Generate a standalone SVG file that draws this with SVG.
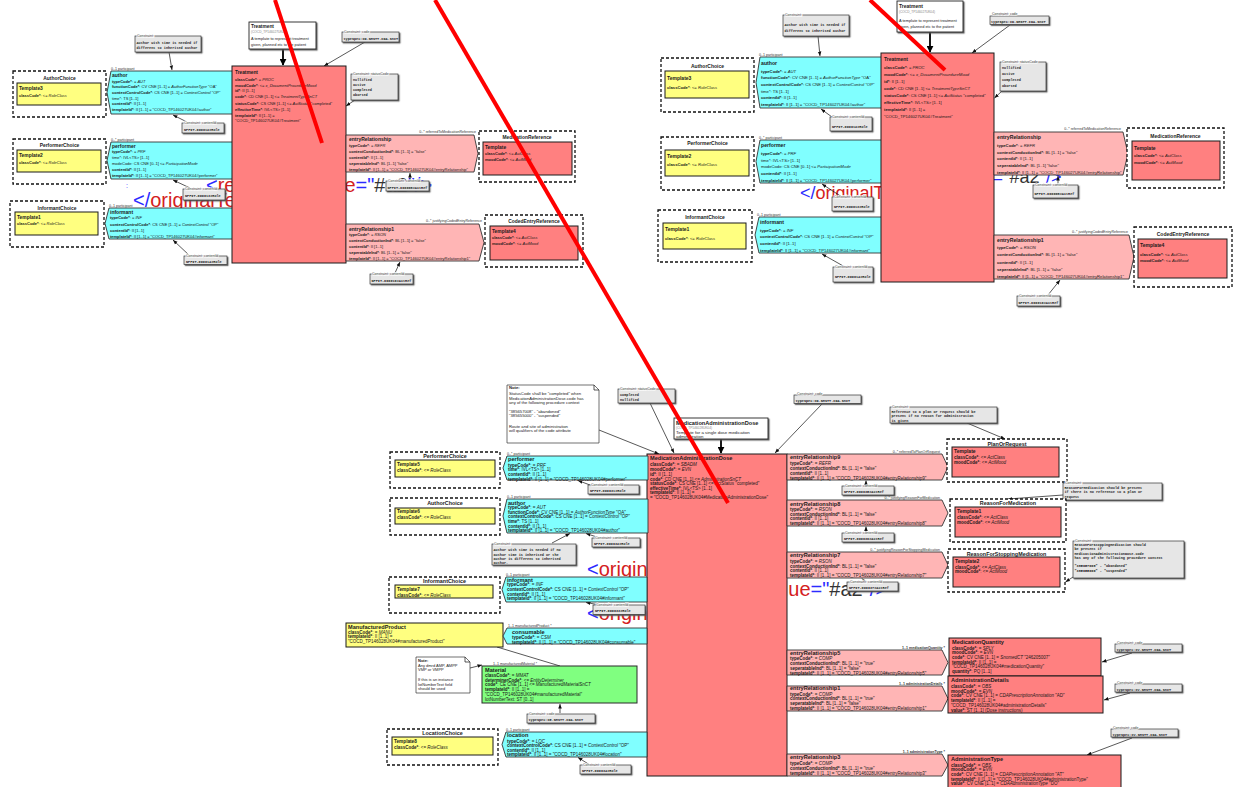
<svg xmlns="http://www.w3.org/2000/svg" width="1235" height="787" viewBox="0 0 1235 787">
<defs>
<style>
text{font-family:"Liberation Sans",Arial,sans-serif;fill:#1a1a1a}
.h{font-weight:bold}
.i{font-style:italic}
.g{fill:#888}
.cl{font-size:3.5px;fill:#333;stroke:#fff;stroke-width:1.2px;paint-order:stroke}
.mo{font-family:"Liberation Mono",monospace;font-weight:bold;font-size:3.5px;fill:#222}
.red{fill:#ff8080;stroke:#1a1a1a;stroke-width:1}
.pink{fill:#ffb5b5;stroke:#333;stroke-width:0.9}
.cyan{fill:#80ffff;stroke:#333;stroke-width:0.9}
.yel{fill:#ffff80;stroke:#1a1a1a;stroke-width:1}
.grn{fill:#80ff80;stroke:#2a2a2a;stroke-width:1}
.ch{fill:#fff;stroke:#111;stroke-width:1.3;stroke-dasharray:3 2}
.cb{fill:#e6e6e6;stroke:#333;stroke-width:0.7;filter:url(#sh)}
.tb{fill:#fff;stroke:#222;stroke-width:0.9;filter:url(#sh)}
.nt{fill:#fff;stroke:#333;stroke-width:0.7}
.ln{stroke:#111;stroke-width:0.7;fill:none;marker-end:url(#ah)}
.lp{stroke:#111;stroke-width:0.7;fill:none}
.tk{stroke:#000;stroke-width:1.8;fill:none;marker-end:url(#ahb)}
.rl{stroke:#ff0000;stroke-width:4;fill:none}
.x{font-size:20px}
.xb{fill:#2b2bff}
.xr{fill:#d42020}
.xd{fill:#333}
.lb{font-size:3.6px;fill:#333}
</style>
<marker id="ah" viewBox="0 0 10 10" refX="10" refY="5" markerWidth="4.5" markerHeight="4.5" orient="auto" markerUnits="userSpaceOnUse"><path d="M0,1L10,5L0,9Z" fill="#111"/></marker>
<marker id="ahb" viewBox="0 0 10 10" refX="9" refY="5" markerWidth="7" markerHeight="7" orient="auto" markerUnits="userSpaceOnUse"><path d="M0,0L10,5L0,10Z" fill="#000"/></marker>
<filter id="sh" x="-10%" y="-10%" width="130%" height="150%"><feDropShadow dx="1.2" dy="1.2" stdDeviation="0.2" flood-color="#555" flood-opacity="0.9"/></filter>
</defs>
<rect width="1235" height="787" fill="#fff"/>

<!-- background xml fragments -->
<g id="xml-fragments" class="x">
<text x="206" y="192"><tspan class="xb">&lt;</tspan><tspan class="xr">reference value</tspan><tspan class="xb">="</tspan><tspan class="xd">#a2</tspan><tspan class="xb">"/&gt;</tspan></text>
<text x="133" y="207"><tspan class="xb">&lt;/</tspan><tspan class="xr">originalText</tspan><tspan class="xb">&gt;</tspan></text>
<text x="126" y="188" font-size="7" class="xb">:</text>
<text x="800" y="199" font-size="18"><tspan class="xb">&lt;/</tspan><tspan class="xr">originalText</tspan><tspan class="xb">&gt;</tspan></text>
<text x="858" y="182.5" font-size="18"><tspan class="xb">&lt;</tspan><tspan class="xr">reference value</tspan><tspan class="xb">="</tspan><tspan class="xd">#a2</tspan><tspan class="xb">"/&gt;</tspan></text>
<text x="587" y="576"><tspan class="xb">&lt;</tspan><tspan class="xr">originalText</tspan></text>
<text x="587" y="620"><tspan class="xb">&lt;</tspan><tspan class="xr">originalText</tspan></text>
<text x="661" y="596"><tspan class="xb">&lt;</tspan><tspan class="xr">reference value</tspan><tspan class="xb">="</tspan><tspan class="xd">#a2</tspan><tspan class="xb">"/&gt;</tspan></text>
</g>

<!-- ================= TOP LEFT ================= -->
<g id="connectors-tl">
<path class="ln" d="M169,52L172,70"/>
<path class="ln" d="M187,122L173,115"/>
<path class="ln" d="M190,188L173,180"/>
<path class="ln" d="M190,256L173,240"/>
<path class="tk" d="M283,49V65"/>
<path class="ln" d="M365,42L324,66"/>
<path class="ln" d="M355,100L346,106"/>
<path class="ln" d="M410,180V173"/>
<path class="ln" d="M395,273L400,262"/>
</g>
<g font-size="4">
<g id="tl-authorchoice"><rect class="ch" x="13" y="71" width="93" height="46"/><text x="59.5" y="80" text-anchor="middle" class="h" font-size="4.9">AuthorChoice</text>
<rect class="yel" x="17" y="83" width="84" height="22"/><text x="19" y="90" class="h" font-size="4.9">Template3</text><text x="19" y="96.5"><tspan class="h">classCode*</tspan>: &lt;= <tspan class="i">RoleClass</tspan></text></g>
<g id="tl-author"><text x="111" y="69.5" class="lb">0..1 participant</text><path class="cyan" d="M111,71H233V114H111L107,92.5Z"/>
<text x="112" y="77" class="h" font-size="5">author</text>
<text x="112" y="82.5"><tspan class="h">typeCode*</tspan>: = <tspan class="i">AUT</tspan></text>
<text x="112" y="88.2"><tspan class="h">functionCode*</tspan>: CV CNE [1..1] = <tspan class="i">AuthorFunctionType</tspan> "OA"</text>
<text x="112" y="93.9"><tspan class="h">contextControlCode*</tspan>: CS CNE [1..1] = <tspan class="i">ContextControl</tspan> "OP"</text>
<text x="112" y="99.6">time*: TS [1..1]</text>
<text x="112" y="105.3"><tspan class="h">contentId*</tspan>: II [1..1]</text>
<text x="112" y="111.2"><tspan class="h">templateId*</tspan>: II [1..1] = "COCD_TP146027UK04#author"</text></g>
<g id="tl-constraint-author"><rect class="cb" x="135" y="36" width="66" height="16"/><text class="cl" x="137" y="37">Constraint:</text><text class="mo" x="136.5" y="43.5" font-size="3.6">Author with time is needed if</text><text class="mo" x="136.5" y="49" font-size="3.6">different to inherited author</text></g>
<g id="tl-c-author-id"><rect class="cb" x="182" y="123" width="42" height="10"/><text class="cl" x="184" y="124">Constraint: contentId</text><text class="mo" x="184" y="130.5">NPFIT-000012#Role</text></g>

<g id="tl-performerchoice"><rect class="ch" x="13" y="139" width="93" height="45"/><text x="59.5" y="147" text-anchor="middle" class="h" font-size="4.9">PerformerChoice</text>
<rect class="yel" x="17" y="150" width="84" height="22"/><text x="19" y="157" class="h" font-size="4.9">Template2</text><text x="19" y="163.5"><tspan class="h">classCode*</tspan>: &lt;= <tspan class="i">RoleClass</tspan></text></g>
<g id="tl-performer"><text x="111" y="140.5" class="lb">0..* participant</text><path class="cyan" d="M111,142H233V179H111L107,160.5Z"/>
<text x="112" y="147.5" class="h" font-size="5">performer</text>
<text x="112" y="153.3"><tspan class="h">typeCode*</tspan>: = <tspan class="i">PRF</tspan></text>
<text x="112" y="159.3">time*: IVL&lt;TS&gt; [1..1]</text>
<text x="112" y="165.3">modeCode: CS CNE [0..1] &lt;= <tspan class="i">ParticipationMode</tspan></text>
<text x="112" y="171.3"><tspan class="h">contentId*</tspan>: II [1..1]</text>
<text x="112" y="177.2"><tspan class="h">templateId*</tspan>: II [1..1] = "COCD_TP146027UK04#performer"</text></g>
<g id="tl-c-performer-id"><rect class="cb" x="183" y="189" width="42" height="11"/><text class="cl" x="185" y="190">Constraint: contentId</text><text class="mo" x="185" y="197">NPFIT-000013#Role</text></g>

<g id="tl-informantchoice"><rect class="ch" x="10" y="201" width="94" height="46"/><text x="57" y="209.5" text-anchor="middle" class="h" font-size="4.9">InformantChoice</text>
<rect class="yel" x="15" y="212" width="83" height="23"/><text x="17" y="218.8" class="h" font-size="4.9">Template1</text><text x="17" y="225.3"><tspan class="h">classCode*</tspan>: &lt;= <tspan class="i">RoleClass</tspan></text></g>
<g id="tl-informant"><text x="109" y="206.5" class="lb">0..1 participant</text><path class="cyan" d="M109,208H233V239H109L105,223.5Z"/>
<text x="110" y="213.5" class="h" font-size="5">informant</text>
<text x="110" y="219.3"><tspan class="h">typeCode*</tspan>: = <tspan class="i">INF</tspan></text>
<text x="110" y="225.6"><tspan class="h">contextControlCode*</tspan>: CS CNE [1..1] = <tspan class="i">ContextControl</tspan> "OP"</text>
<text x="110" y="231.6"><tspan class="h">contentId*</tspan>: II [1..1]</text>
<text x="110" y="237.6"><tspan class="h">templateId*</tspan>: II [1..1] = "COCD_TP146027UK04#informant"</text></g>
<g id="tl-c-informant-id"><rect class="cb" x="184" y="256" width="43" height="8.5"/><text class="cl" x="186" y="257">Constraint: contentId</text><text class="mo" x="186" y="262.8">NPFIT-000014#Role</text></g>

<g id="tl-treatment-title"><rect class="tb" x="249" y="22" width="67" height="27"/><text x="251" y="28.3" class="h" font-size="4.8">Treatment</text><text x="251" y="33.3" class="g" font-size="3.2">(COCD_TP146027UK04)</text><text x="251" y="40" font-size="3.9">A template to represent treatment</text><text x="251" y="46" font-size="3.9">given, planned etc to the patient</text></g>
<g id="tl-treatment"><rect class="red" x="232" y="66" width="114" height="197"/>
<text x="235" y="74" class="h" font-size="4.8">Treatment</text>
<text x="235" y="80.5"><tspan class="h">classCode*</tspan>: = <tspan class="i">PROC</tspan></text>
<text x="235" y="86.5"><tspan class="h">moodCode*</tspan>: &lt;= <tspan class="i">x_DocumentProcedureMood</tspan></text>
<text x="235" y="92.3"><tspan class="h">id*</tspan>: II [1..1]</text>
<text x="235" y="98.3"><tspan class="h">code*</tspan>: CD CNE [1..1] &lt;= <tspan class="i">TreatmentTypeSnCT</tspan></text>
<text x="235" y="104.5"><tspan class="h">statusCode*</tspan>: CS CNE [1..1] &lt;= <tspan class="i">ActStatus</tspan> "completed"</text>
<text x="235" y="110.5"><tspan class="h">effectiveTime*</tspan>: IVL&lt;TS&gt; [1..1]</text>
<text x="235" y="116.5"><tspan class="h">templateId*</tspan>: II [1..1] =</text>
<text x="235" y="122.3">"COCD_TP146027UK04#Treatment"</text></g>
<g id="tl-c-code"><rect class="cb" x="342" y="32" width="57" height="10"/><text class="cl" x="344" y="33">Constraint: code</text><text class="mo" x="343.5" y="39.5" font-size="3.3">typeSpec:CD.NHSTT.CDA.SnCT</text></g>
<g id="tl-c-status"><rect class="cb" x="351" y="74" width="47" height="26"/><text class="cl" x="353" y="75">Constraint: statusCode</text><text class="mo" x="353" y="80.8">nullified</text><text class="mo" x="353" y="85.8">active</text><text class="mo" x="353" y="90.8">completed</text><text class="mo" x="353" y="95.8">aborted</text></g>

<g id="tl-er"><text x="476" y="133.3" text-anchor="end" class="lb">0..* referredToMedicationReference</text><path class="pink" d="M346,135H474L478,153.5L474,172H346Z"/>
<text x="349" y="141" class="h" font-size="5">entryRelationship</text>
<text x="349" y="147"><tspan class="h">typeCode*</tspan>: = <tspan class="i">REFR</tspan></text>
<text x="349" y="153"><tspan class="h">contextConductionInd*</tspan>: BL [1..1] = "false"</text>
<text x="349" y="158.5"><tspan class="h">contentId*</tspan>: II [1..1]</text>
<text x="349" y="164.5"><tspan class="h">seperatableInd*</tspan>: BL [1..1] "false"</text>
<text x="349" y="170.5"><tspan class="h">templateId*</tspan>: II [1..1] = "COCD_TP146027UK04#entryRelationship"</text></g>
<g id="tl-c-er-id"><rect class="cb" x="386" y="181" width="43" height="10"/><text class="cl" x="388" y="182">Constraint: contentId</text><text class="mo" x="387.5" y="188.7">NPFIT-000008#ActRef</text></g>
<g id="tl-medref"><rect class="ch" x="479" y="131" width="96" height="51"/><text x="527" y="139" text-anchor="middle" class="h" font-size="4.9">MedicationReference</text>
<rect class="red" x="483" y="142" width="89" height="33"/><text x="485" y="149" class="h" font-size="4.9">Template</text><text x="485" y="155.3"><tspan class="h">classCode*</tspan>: &lt;= <tspan class="i">ActClass</tspan></text><text x="485" y="161.3"><tspan class="h">moodCode*</tspan>: &lt;= <tspan class="i">ActMood</tspan></text></g>

<g id="tl-er1"><text x="482" y="222.3" text-anchor="end" class="lb">0..* justifyingCodedEntryReference</text><path class="pink" d="M346,224H479L484,242.5L479,261H346Z"/>
<text x="349" y="230.5" class="h" font-size="5">entryRelationship1</text>
<text x="349" y="236.2"><tspan class="h">typeCode*</tspan>: = <tspan class="i">RSON</tspan></text>
<text x="349" y="242.2"><tspan class="h">contextConductionInd*</tspan>: BL [1..1] = "false"</text>
<text x="349" y="248.2"><tspan class="h">contentId*</tspan>: II [1..1]</text>
<text x="349" y="254.2"><tspan class="h">seperatableInd*</tspan>: BL [1..1] = "false"</text>
<text x="349" y="260"><tspan class="h">templateId*</tspan>: II [1..1] = "COCD_TP146027UK04#entryRelationship1"</text></g>
<g id="tl-c-er1-id"><rect class="cb" x="370" y="274" width="43" height="10"/><text class="cl" x="372" y="275">Constraint: contentId</text><text class="mo" x="371.5" y="281.7">NPFIT-000010#ActRef</text></g>
<g id="tl-codedref"><rect class="ch" x="485" y="215" width="98" height="52"/><text x="534" y="223" text-anchor="middle" class="h" font-size="4.9">CodedEntryReference</text>
<rect class="red" x="490" y="226" width="88" height="34"/><text x="492" y="233" class="h" font-size="4.9">Template4</text><text x="492" y="239.3"><tspan class="h">classCode*</tspan>: &lt;= <tspan class="i">ActClass</tspan></text><text x="492" y="245.3"><tspan class="h">moodCode*</tspan>: &lt;= <tspan class="i">ActMood</tspan></text></g>
</g>

<!-- ================= TOP RIGHT ================= -->
<g id="connectors-tr">
<path class="ln" d="M818,36L820,56"/>
<path class="ln" d="M832,117L821,109"/>
<path class="ln" d="M842,197L822,184"/>
<path class="ln" d="M845,267L822,254"/>
<path class="tk" d="M930,32V52"/>
<path class="ln" d="M1010,25L972,53"/>
<path class="ln" d="M1002,91L994.5,98"/>
<path class="ln" d="M1058,185V176"/>
<path class="ln" d="M1048,295L1060,280"/>
</g>
<g font-size="4.2">
<g id="tr-constraint-author"><rect class="cb" x="783" y="15" width="66" height="21"/><text class="cl" x="785" y="16">Constraint:</text><text class="mo" x="784.5" y="25.5" font-size="3.6">Author with time is needed if</text><text class="mo" x="784.5" y="32" font-size="3.6">different to inherited author</text></g>
<g id="tr-authorchoice"><rect class="ch" x="661" y="58" width="93" height="54"/><text x="707.5" y="67.5" text-anchor="middle" class="h" font-size="5">AuthorChoice</text>
<rect class="yel" x="665" y="71" width="84" height="27"/><text x="667" y="79.5" class="h" font-size="5">Template3</text><text x="667" y="89"><tspan class="h">classCode*</tspan>: &lt;= <tspan class="i">RoleClass</tspan></text></g>
<g id="tr-author"><text x="759" y="55.5" class="lb">0..1 participant</text><path class="cyan" d="M760,57H882V108H760L756,82.5Z"/>
<text x="761" y="64.5" class="h" font-size="5.2">author</text>
<text x="761" y="72.6"><tspan class="h">typeCode*</tspan>: = <tspan class="i">AUT</tspan></text>
<text x="761" y="79.3"><tspan class="h">functionCode*</tspan>: CV CNE [1..1] = <tspan class="i">AuthorFunctionType</tspan> "OA"</text>
<text x="761" y="86.3"><tspan class="h">contextControlCode*</tspan>: CS CNE [1..1] = <tspan class="i">ContextControl</tspan> "OP"</text>
<text x="761" y="92.6">time*: TS [1..1]</text>
<text x="761" y="99.3"><tspan class="h">contentId*</tspan>: II [1..1]</text>
<text x="761" y="106.3"><tspan class="h">templateId*</tspan>: II [1..1] = "COCD_TP146027UK04#author"</text></g>
<g id="tr-c-author-id"><rect class="cb" x="830" y="117" width="42" height="14"/><text class="cl" x="832" y="118">Constraint: contentId</text><text class="mo" x="832" y="127.5">NPFIT-000012#Role</text></g>

<g id="tr-performerchoice"><rect class="ch" x="661" y="137" width="93" height="53"/><text x="707.5" y="145.3" text-anchor="middle" class="h" font-size="5">PerformerChoice</text>
<rect class="yel" x="665" y="150" width="84" height="26"/><text x="667" y="157.5" class="h" font-size="5">Template2</text><text x="667" y="166.3"><tspan class="h">classCode*</tspan>: &lt;= <tspan class="i">RoleClass</tspan></text></g>
<g id="tr-performer"><text x="759" y="138.5" class="lb">0..* participant</text><path class="cyan" d="M760,140H882V183H760L756,161.5Z"/>
<text x="761" y="146.5" class="h" font-size="5.2">performer</text>
<text x="761" y="155"><tspan class="h">typeCode*</tspan>: = <tspan class="i">PRF</tspan></text>
<text x="761" y="161.6">time*: IVL&lt;TS&gt; [1..1]</text>
<text x="761" y="168.3">modeCode: CS CNE [0..1] &lt;= <tspan class="i">ParticipationMode</tspan></text>
<text x="761" y="175"><tspan class="h">contentId*</tspan>: II [1..1]</text>
<text x="761" y="181.6"><tspan class="h">templateId*</tspan>: II [1..1] = "COCD_TP146027UK04#performer"</text></g>
<g id="tr-c-performer-id"><rect class="cb" x="832" y="197" width="41" height="14"/><text class="cl" x="834" y="198">Constraint: contentId</text><text class="mo" x="834" y="207.5">NPFIT-000013#Role</text></g>

<g id="tr-informantchoice"><rect class="ch" x="658" y="210" width="94" height="52"/><text x="705" y="218.7" text-anchor="middle" class="h" font-size="5">InformantChoice</text>
<rect class="yel" x="663" y="223" width="83" height="26"/><text x="665" y="230.7" class="h" font-size="5">Template1</text><text x="665" y="239.6"><tspan class="h">classCode*</tspan>: &lt;= <tspan class="i">RoleClass</tspan></text></g>
<g id="tr-informant"><text x="757" y="215.5" class="lb">0..1 participant</text><path class="cyan" d="M759,217H882V253H759L755,235Z"/>
<text x="760" y="223.5" class="h" font-size="5.2">informant</text>
<text x="760" y="231.6"><tspan class="h">typeCode*</tspan>: = <tspan class="i">INF</tspan></text>
<text x="760" y="238.3"><tspan class="h">contextControlCode*</tspan>: CS CNE [1..1] = <tspan class="i">ContextControl</tspan> "OP"</text>
<text x="760" y="245"><tspan class="h">contentId*</tspan>: II [1..1]</text>
<text x="760" y="251.6"><tspan class="h">templateId*</tspan>: II [1..1] = "COCD_TP146027UK04#informant"</text></g>
<g id="tr-c-informant-id"><rect class="cb" x="833" y="267" width="40" height="15"/><text class="cl" x="835" y="268">Constraint: contentId</text><text class="mo" x="835" y="277.5">NPFIT-000014#Role</text></g>

<g id="tr-treatment-title"><rect class="tb" x="897" y="1" width="66" height="31"/><text x="899" y="8.3" class="h" font-size="5">Treatment</text><text x="899" y="13.3" class="g" font-size="3.2">(COCD_TP146027UK04)</text><text x="899" y="21.5" font-size="3.9">A template to represent treatment</text><text x="899" y="28.2" font-size="3.9">given, planned etc to the patient</text></g>
<g id="tr-treatment"><rect class="red" x="881" y="53" width="113" height="229"/>
<text x="884" y="60.5" class="h" font-size="5">Treatment</text>
<text x="884" y="69.3"><tspan class="h">classCode*</tspan>: = <tspan class="i">PROC</tspan></text>
<text x="884" y="76.3"><tspan class="h">moodCode*</tspan>: &lt;= <tspan class="i">x_DocumentProcedureMood</tspan></text>
<text x="884" y="83.3"><tspan class="h">id*</tspan>: II [1..1]</text>
<text x="884" y="90.3"><tspan class="h">code*</tspan>: CD CNE [1..1] &lt;= <tspan class="i">TreatmentTypeSnCT</tspan></text>
<text x="884" y="97.3"><tspan class="h">statusCode*</tspan>: CS CNE [1..1] &lt;= <tspan class="i">ActStatus</tspan> "completed"</text>
<text x="884" y="104"><tspan class="h">effectiveTime*</tspan>: IVL&lt;TS&gt; [1..1]</text>
<text x="884" y="111"><tspan class="h">templateId*</tspan>: II [1..1] =</text>
<text x="884" y="118">"COCD_TP146027UK04#Treatment"</text></g>
<g id="tr-c-code"><rect class="cb" x="990" y="16" width="59" height="8.5"/><text class="cl" x="992" y="15">Constraint: code</text><text class="mo" x="991" y="22.5" font-size="3.3">typeSpec:CD.NHSTT.CDA.SnCT</text></g>
<g id="tr-c-status"><rect class="cb" x="1000" y="62" width="46" height="29"/><text class="cl" x="1002" y="62.5">Constraint: statusCode</text><text class="mo" x="1002" y="68.7">nullified</text><text class="mo" x="1002" y="74.7">active</text><text class="mo" x="1002" y="80.7">completed</text><text class="mo" x="1002" y="86.7">aborted</text></g>

<g id="tr-er"><text x="1121" y="129.8" text-anchor="end" class="lb">0..* referredToMedicationReference</text><path class="pink" d="M994,132H1123L1128,153.5L1123,175H994Z"/>
<text x="997" y="139" class="h" font-size="5.2">entryRelationship</text>
<text x="997" y="146.6"><tspan class="h">typeCode*</tspan>: = <tspan class="i">REFR</tspan></text>
<text x="997" y="153.6"><tspan class="h">contextConductionInd*</tspan>: BL [1..1] = "false"</text>
<text x="997" y="160.3"><tspan class="h">contentId*</tspan>: II [1..1]</text>
<text x="997" y="167.3"><tspan class="h">seperatableInd*</tspan>: BL [1..1] "false"</text>
<text x="997" y="174.3"><tspan class="h">templateId*</tspan>: II [1..1] = "COCD_TP146027UK04#entryRelationship"</text></g>
<g id="tr-c-er-id"><rect class="cb" x="1033" y="185" width="45" height="13"/><text class="cl" x="1035" y="186">Constraint: contentId</text><text class="mo" x="1034.5" y="194.5">NPFIT-000008#ActRef</text></g>
<g id="tr-medref"><rect class="ch" x="1127" y="128" width="97" height="60"/><text x="1175.5" y="138" text-anchor="middle" class="h" font-size="5">MedicationReference</text>
<rect class="red" x="1132" y="141" width="88" height="39"/><text x="1134" y="149.7" class="h" font-size="5">Template</text><text x="1134" y="157.3"><tspan class="h">classCode*</tspan>: &lt;= <tspan class="i">ActClass</tspan></text><text x="1134" y="164.3"><tspan class="h">moodCode*</tspan>: &lt;= <tspan class="i">ActMood</tspan></text></g>

<g id="tr-er1"><text x="1128" y="233.3" text-anchor="end" class="lb">0..* justifyingCodedEntryReference</text><path class="pink" d="M994,235H1129L1134,257L1129,279H994Z"/>
<text x="997" y="241.5" class="h" font-size="5.2">entryRelationship1</text>
<text x="997" y="249"><tspan class="h">typeCode*</tspan>: = <tspan class="i">RSON</tspan></text>
<text x="997" y="256.3"><tspan class="h">contextConductionInd*</tspan>: BL [1..1] = "false"</text>
<text x="997" y="263.6"><tspan class="h">contentId*</tspan>: II [1..1]</text>
<text x="997" y="271"><tspan class="h">seperatableInd*</tspan>: BL [1..1] = "false"</text>
<text x="997" y="278.3"><tspan class="h">templateId*</tspan>: II [1..1] = "COCD_TP146027UK04#entryRelationship1"</text></g>
<g id="tr-c-er1-id"><rect class="cb" x="1017" y="296" width="43" height="10"/><text class="cl" x="1019" y="297">Constraint: contentId</text><text class="mo" x="1018.5" y="303.7">NPFIT-000010#ActRef</text></g>
<g id="tr-codedref"><rect class="ch" x="1134" y="227" width="98" height="60"/><text x="1183" y="235.5" text-anchor="middle" class="h" font-size="5">CodedEntryReference</text>
<rect class="red" x="1138" y="239" width="89" height="39"/><text x="1140" y="247.3" class="h" font-size="5">Template4</text><text x="1140" y="255.6"><tspan class="h">classCode*</tspan>: &lt;= <tspan class="i">ActClass</tspan></text><text x="1140" y="262.3"><tspan class="h">moodCode*</tspan>: &lt;= <tspan class="i">ActMood</tspan></text></g>
</g>

<!-- ================= BOTTOM ================= -->
<g id="connectors-b">
<path class="ln" d="M599,430L659,454"/>
<path class="ln" d="M650,403L674,453"/>
<path class="ln" d="M822,404L775,453"/>
<path class="tk" d="M721,439V453"/>
<path class="ln" d="M590,485L578,480.5"/>
<path class="ln" d="M600,538L586,533.5"/>
<path class="ln" d="M552,543L570,533.5"/>
<path class="ln" d="M600,605L586,602.5"/>
<path class="lp" d="M497,647L560,666"/>
<path class="ln" d="M470,668L482,665"/>
<path class="ln" d="M560,713V704"/>
<path class="ln" d="M590,765L578,757.5"/>
<path class="ln" d="M866,486V480.5"/>
<path class="ln" d="M866,533V526.5"/>
<path class="ln" d="M865,582L862,578.5"/>
<path class="ln" d="M967,423L1005,439"/>
<path class="ln" d="M1063,495L1008,499"/>
<path class="ln" d="M1073,577L1065.5,582"/>
<path class="ln" d="M1132,653L1102,662"/>
<path class="ln" d="M1130,693L1104,700"/>
<path class="ln" d="M1132,738L1087,755"/>
</g>
<g font-size="4.5">
<g id="b-note-status"><path class="nt" d="M507,385H594L599,390V443H507Z"/><path class="lp" d="M594,385V390H599"/>
<g font-size="4.2"><text x="509" y="389.3" class="h">Note:</text>
<text x="509" y="395">StatusCode shall be "completed" when</text>
<text x="509" y="399.5">MedicationAdministrationDose.code has</text>
<text x="509" y="404.3">any of the following procedure context</text>
<text x="509" y="412.5">"385657008" - "abandoned"</text>
<text x="509" y="417.2">"385655000" - "suspended"</text>
<text x="509" y="427.5">Route and site of administration</text>
<text x="509" y="432.2">will qualifiers of the code attribute</text></g></g>
<g id="b-c-status"><rect class="cb" x="618" y="389" width="57" height="14"/><text class="cl" x="620" y="389.5">Constraint: statusCode</text><text class="mo" x="620" y="395.8">completed</text><text class="mo" x="620" y="400.8">nullified</text></g>
<g id="b-c-code"><rect class="cb" x="794" y="395" width="67" height="8.5"/><text class="cl" x="797" y="395">Constraint: code</text><text class="mo" x="795.5" y="401.7" font-size="3.7">typeSpec:CD.NHSTT.CDA.SnCT</text></g>
<g id="b-mad-title"><rect class="tb" x="674" y="418" width="94" height="21"/><text x="676" y="424.5" class="h" font-size="5.6">MedicationAdministrationDose</text><text x="676" y="429" class="g" font-size="3.2">(COCD_TP146028UK04)</text><text x="676" y="433.5" font-size="4.4">Template for a single dose medication</text><text x="676" y="437.8" font-size="4.4">administration</text></g>
<g id="b-mad"><rect class="red" x="647" y="454" width="140" height="322"/>
<text x="650" y="460.3" class="h" font-size="5.6">MedicationAdministrationDose</text>
<text x="650" y="466"><tspan class="h">classCode*</tspan>: = <tspan class="i">SBADM</tspan></text>
<text x="650" y="471"><tspan class="h">moodCode*</tspan>: = <tspan class="i">EVN</tspan></text>
<text x="650" y="476"><tspan class="h">id*</tspan>: II [1..1]</text>
<text x="650" y="480.5"><tspan class="h">code*</tspan>: CD CNE [1..1] &lt;= <tspan class="i">AdministrationSnCT</tspan></text>
<text x="650" y="485"><tspan class="h">statusCode*</tspan>: CS CNE [1..1] &lt;= <tspan class="i">ActStatus</tspan> "completed"</text>
<text x="650" y="489.8"><tspan class="h">effectiveTime*</tspan>: IVL&lt;TS&gt; [1..1]</text>
<text x="650" y="494.3"><tspan class="h">templateId*</tspan>: II [1..1] =</text>
<text x="650" y="499"> = "COCD_TP146028UK04#MedicationAdministrationDose"</text></g>

<g id="b-performerchoice"><rect class="ch" x="390" y="452" width="110" height="36"/><text x="445" y="458.3" text-anchor="middle" class="h" font-size="5.4">PerformerChoice</text>
<rect class="yel" x="395" y="460" width="100" height="17"/><text x="397" y="466" class="h" font-size="4.7">Template5</text><text x="397" y="471.6"><tspan class="h">classCode*</tspan>: &lt;= <tspan class="i">RoleClass</tspan></text></g>
<g id="b-performer"><text x="507" y="455" class="lb" font-size="3.8">0..* participant</text><path class="cyan" d="M507,456H648V480H507L503,468Z"/>
<text x="508" y="461" class="h" font-size="5.6">performer</text>
<text x="508" y="466.5"><tspan class="h">typeCode*</tspan>: = <tspan class="i">PRF</tspan></text>
<text x="508" y="471.4"><tspan class="h">time*</tspan>: IVL&lt;TS&gt; [1..1]</text>
<text x="508" y="476"><tspan class="h">contentId*</tspan>: II [1..1]</text>
<text x="508" y="480.5"><tspan class="h">templateId*</tspan>: II [1..1] = "COCD_TP146028UK04#performer"</text></g>
<g id="b-c-performer-id"><rect class="cb" x="588" y="485" width="51" height="9"/><text class="cl" x="591" y="485.5">Constraint: contentId</text><text class="mo" x="590" y="492">NPFIT-000031#Role</text></g>

<g id="b-authorchoice"><rect class="ch" x="390" y="498" width="110" height="37"/><text x="445" y="504.5" text-anchor="middle" class="h" font-size="5.4">AuthorChoice</text>
<rect class="yel" x="395" y="508" width="100" height="16"/><text x="397" y="513.3" class="h" font-size="4.7">Template6</text><text x="397" y="519"><tspan class="h">classCode*</tspan>: &lt;= <tspan class="i">RoleClass</tspan></text></g>
<g id="b-author"><text x="507" y="498" class="lb" font-size="3.8">0..1 participant</text><path class="cyan" d="M507,499H648V533H507L503,516Z"/>
<text x="508" y="504.5" class="h" font-size="5.6">author</text>
<text x="508" y="509.2"><tspan class="h">typeCode*</tspan>: = <tspan class="i">AUT</tspan></text>
<text x="508" y="513.8"><tspan class="h">functionCode*</tspan>: CV CNE [1..1] = <tspan class="i">AuthorFunctionType</tspan> "OA"</text>
<text x="508" y="518.2"><tspan class="h">contextControlCode*</tspan>: CS CNE [1..1] = <tspan class="i">ContextControl</tspan> "OP"</text>
<text x="508" y="522.6"><tspan class="h">time*</tspan>: TS [1..1]</text>
<text x="508" y="527.5"><tspan class="h">contentId*</tspan>: II [1..1]</text>
<text x="508" y="532.3"><tspan class="h">templateId*</tspan>: II [1..1] = "COCD_TP146028UK04#author"</text></g>
<g id="b-c-author-id"><rect class="cb" x="592" y="538" width="48" height="9"/><text class="cl" x="595" y="538.5">Constraint: contentId</text><text class="mo" x="594" y="545">NPFIT-000032#Role</text></g>
<g id="b-c-author-time"><rect class="cb" x="492" y="544" width="84" height="21"/><text class="cl" x="494" y="544.5">Constraint:</text>
<text class="mo" x="493.5" y="551.3" font-size="4.2">Author with time is needed if no</text><text class="mo" x="493.5" y="555.5" font-size="4.2">author time is inherited or the</text><text class="mo" x="493.5" y="559.8" font-size="4.2">author is different to inherited</text><text class="mo" x="493.5" y="564" font-size="4.2">author.</text></g>

<g id="b-informantchoice"><rect class="ch" x="389" y="577" width="111" height="36"/><text x="444.5" y="583.3" text-anchor="middle" class="h" font-size="5.4">InformantChoice</text>
<rect class="yel" x="395" y="585" width="98" height="13"/><text x="397" y="590.8" class="h" font-size="4.7">Template7</text><text x="397" y="596.5"><tspan class="h">classCode*</tspan>: &lt;= <tspan class="i">RoleClass</tspan></text></g>
<g id="b-informant"><text x="506" y="575.7" class="lb" font-size="3.8">0..1 participant</text><path class="cyan" d="M506,577H647V602H506L502,589.5Z"/>
<text x="507" y="581.5" class="h" font-size="5.6">informant</text>
<text x="507" y="586"><tspan class="h">typeCode*</tspan>: = <tspan class="i">INF</tspan></text>
<text x="507" y="591"><tspan class="h">contextControlCode*</tspan>: CS CNE [1..1] = <tspan class="i">ContextControl</tspan> "OP"</text>
<text x="507" y="595.5"><tspan class="h">contentId*</tspan>: II [1..1]</text>
<text x="507" y="600.2"><tspan class="h">templateId*</tspan>: II [1..1] = "COCD_TP146028UK04#informant"</text></g>
<g id="b-c-informant-id"><rect class="cb" x="593" y="605" width="52" height="9.5"/><text class="cl" x="596" y="605.5">Constraint: contentId</text><text class="mo" x="595" y="612.3">NPFIT-000033#Role</text></g>

<g id="b-manufacturedproduct"><rect class="yel" x="346" y="623" width="157" height="24"/>
<text x="348" y="628.7" class="h" font-size="5.6">ManufacturedProduct</text>
<text x="348" y="633.6"><tspan class="h">classCode*</tspan>: = <tspan class="i">MANU</tspan></text>
<text x="348" y="638.3"><tspan class="h">templateId*</tspan>: II [1..1] =</text>
<text x="348" y="643.2">"COCD_TP146028UK04#manufacturedProduct"</text></g>
<g id="b-consumable"><text x="508" y="626.5" class="lb" font-size="3.8">1..1 manufacturedProduct *</text><path class="cyan" d="M507,628H647V644H507L503,636Z"/>
<text x="512" y="634" class="h" font-size="5.6">consumable</text>
<text x="512" y="639"><tspan class="h">typeCode*</tspan>: = <tspan class="i">CSM</tspan></text>
<text x="512" y="643.5"><tspan class="h">templateId*</tspan>: II [1..1] = "COCD_TP146028UK04#consumable"</text></g>
<g id="b-material"><text x="493" y="665" class="lb" font-size="3.8">1..1 manufacturedMaterial *</text><rect class="grn" x="482" y="666" width="155" height="37"/>
<text x="485" y="672" class="h" font-size="5.6">Material</text>
<text x="485" y="676.6"><tspan class="h">classCode*</tspan>: = <tspan class="i">MMAT</tspan></text>
<text x="485" y="681.5"><tspan class="h">determinerCode*</tspan>: &lt;= <tspan class="i">EntityDeterminer</tspan></text>
<text x="485" y="686.2"><tspan class="h">code*</tspan>: CE CNE [1..1] &lt;= <tspan class="i">ManufacturedMaterialSnCT</tspan></text>
<text x="485" y="690.8"><tspan class="h">templateId*</tspan>: II [1..1] =</text>
<text x="485" y="695.5">"COCD_TP146028UK04#manufacturedMaterial"</text>
<text x="485" y="700.5">lotNumberText: ST [0..1]</text></g>
<g id="b-note-material"><path class="nt" d="M416,657H465L470,662V693H416Z"/><path class="lp" d="M465,657V662H470"/>
<g font-size="4"><text x="418" y="661.6" class="h">Note:</text><text x="418" y="666.5">Any dmrd AMP, AMPP</text><text x="418" y="671">VMP or VMPP</text><text x="418" y="681">If this is an instance</text><text x="418" y="685.5">lotNumberText field</text><text x="418" y="690.2">should be used</text></g></g>
<g id="b-c-material-code"><rect class="cb" x="527" y="714" width="68" height="9"/><text class="cl" x="529" y="714.5">Constraint: code</text><text class="mo" x="528.5" y="721" font-size="3.7">typeSpec:CE.NHSTT.CDA.SnCT</text></g>

<g id="b-locationchoice"><rect class="ch" x="387" y="729" width="111" height="36"/><text x="442.5" y="735" text-anchor="middle" class="h" font-size="5.4">LocationChoice</text>
<rect class="yel" x="392" y="737" width="101" height="18"/><text x="394" y="742.5" class="h" font-size="4.7">Template8</text><text x="394" y="749"><tspan class="h">classCode*</tspan>: &lt;= <tspan class="i">RoleClass</tspan></text></g>
<g id="b-location"><text x="506" y="730.7" class="lb" font-size="3.8">0..1 participant</text><path class="cyan" d="M506,732H647V757H506L502,744.5Z"/>
<text x="507" y="737" class="h" font-size="5.6">location</text>
<text x="507" y="742.5"><tspan class="h">typeCode*</tspan>: = <tspan class="i">LOC</tspan></text>
<text x="507" y="746.7"><tspan class="h">contextControlCode*</tspan>: CS CNE [1..1] = <tspan class="i">ContextControl</tspan> "OP"</text>
<text x="507" y="751.5"><tspan class="h">contentId*</tspan>: II [1..1]</text>
<text x="507" y="756.3"><tspan class="h">templateId*</tspan>: II [1..1] = "COCD_TP146028UK04#location"</text></g>
<g id="b-c-location-id"><rect class="cb" x="580" y="765" width="51" height="9"/><text class="cl" x="583" y="765.5">Constraint: contentId</text><text class="mo" x="582" y="772">NPFIT-000034#Role</text></g>

<g id="b-er9"><text x="940" y="452.5" text-anchor="end" class="lb" font-size="3.8">0..* referredToPlanOrRequest</text><path class="pink" d="M787,454H942L948,467L942,480H787Z"/>
<text x="790" y="459.3" class="h" font-size="5.6">entryRelationship9</text>
<text x="790" y="465"><tspan class="h">typeCode*</tspan>: = <tspan class="i">REFR</tspan></text>
<text x="790" y="470.2"><tspan class="h">contextConductionInd*</tspan>: BL [1..1] = "false"</text>
<text x="790" y="474.5"><tspan class="h">contentId*</tspan>: II [1..1]</text>
<text x="790" y="479.6"><tspan class="h">templateId*</tspan>: II [1..1] = "COCD_TP146028UK04#entryRelationship9"</text></g>
<g id="b-c-er9-id"><rect class="cb" x="842" y="486" width="52" height="9"/><text class="cl" x="845" y="486.5">Constraint: contentId</text><text class="mo" x="844" y="493">NPFIT-000035#ActRef</text></g>
<g id="b-er8"><text x="940" y="498.5" text-anchor="end" class="lb" font-size="3.8">0..* justifyingReasonForMedication</text><path class="pink" d="M787,500H942L948,513L942,526H787Z"/>
<text x="790" y="505.5" class="h" font-size="5.6">entryRelationship8</text>
<text x="790" y="511"><tspan class="h">typeCode*</tspan>: = <tspan class="i">RSON</tspan></text>
<text x="790" y="516"><tspan class="h">contextConductionInd*</tspan>: BL [1..1] = "false"</text>
<text x="790" y="520.3"><tspan class="h">contentId*</tspan>: II [1..1]</text>
<text x="790" y="525"><tspan class="h">templateId*</tspan>: II [1..1] = "COCD_TP146028UK04#entryRelationship8"</text></g>
<g id="b-c-er8-id"><rect class="cb" x="842" y="533" width="52" height="9"/><text class="cl" x="845" y="533.5">Constraint: contentId</text><text class="mo" x="844" y="540">NPFIT-000036#ActRef</text></g>
<g id="b-er7"><text x="940" y="550.5" text-anchor="end" class="lb" font-size="3.8">0..* justifyingReasonForStoppingMedication</text><path class="pink" d="M787,552H942L948,565L942,578H787Z"/>
<text x="790" y="557.3" class="h" font-size="5.6">entryRelationship7</text>
<text x="790" y="563"><tspan class="h">typeCode*</tspan>: = <tspan class="i">RSON</tspan></text>
<text x="790" y="567.6"><tspan class="h">contextConductionInd*</tspan>: BL [1..1] = "false"</text>
<text x="790" y="572.3"><tspan class="h">contentId*</tspan>: II [1..1]</text>
<text x="790" y="577"><tspan class="h">templateId*</tspan>: II [1..1] = "COCD_TP146028UK04#entryRelationship7"</text></g>
<g id="b-c-er7-id"><rect class="cb" x="847" y="582" width="51" height="9"/><text class="cl" x="850" y="582.5">Constraint: contentId</text><text class="mo" x="849" y="589">NPFIT-000037#ActRef</text></g>
<g id="b-er5"><text x="945" y="648.7" text-anchor="end" class="lb h" font-size="3.8">1..1 medicationQuantity *</text><path class="pink" d="M787,650H942L948,662.5L942,675H787Z"/>
<text x="790" y="654.5" class="h" font-size="5.6">entryRelationship5</text>
<text x="790" y="660"><tspan class="h">typeCode*</tspan>: = <tspan class="i">COMP</tspan></text>
<text x="790" y="665"><tspan class="h">contextConductionInd*</tspan>: BL [1..1] = "true"</text>
<text x="790" y="670"><tspan class="h">seperatableInd*</tspan>: BL [1..1] = "false"</text>
<text x="790" y="675"><tspan class="h">templateId*</tspan>: II [1..1] = "COCD_TP146028UK04#entryRelationship5"</text></g>
<g id="b-er1"><text x="945" y="684.5" text-anchor="end" class="lb h" font-size="3.8">1..1 administrationDetails *</text><path class="pink" d="M787,686H942L948,698.5L942,711H787Z"/>
<text x="790" y="690.2" class="h" font-size="5.6">entryRelationship1</text>
<text x="790" y="695.5"><tspan class="h">typeCode*</tspan>: = <tspan class="i">COMP</tspan></text>
<text x="790" y="700.2"><tspan class="h">contextConductionInd*</tspan>: BL [1..1] = "true"</text>
<text x="790" y="705"><tspan class="h">seperatableInd*</tspan>: BL [1..1] = "false"</text>
<text x="790" y="709.8"><tspan class="h">templateId*</tspan>: II [1..1] = "COCD_TP146028UK04#entryRelationship1"</text></g>
<g id="b-er3"><text x="945" y="752.5" text-anchor="end" class="lb h" font-size="3.8">1..1 administrationType *</text><path class="pink" d="M787,754H942L948,765L942,776H787Z"/>
<text x="790" y="759" class="h" font-size="5.6">entryRelationship3</text>
<text x="790" y="765"><tspan class="h">typeCode*</tspan>: = <tspan class="i">COMP</tspan></text>
<text x="790" y="769.6"><tspan class="h">contextConductionInd*</tspan>: BL [1..1] = "true"</text>
<text x="790" y="774.5"><tspan class="h">templateId*</tspan>: II [1..1] = "COCD_TP146028UK04#entryRelationship3"</text></g>

<g id="b-c-planorrequest"><rect class="cb" x="890" y="407" width="107" height="16"/><text class="cl" x="892" y="407.5">Constraint:</text>
<text class="mo" x="891.5" y="412.8" font-size="4.2">Reference to a plan or request should be</text><text class="mo" x="891.5" y="417.4" font-size="4.2">present if no reason for administration</text><text class="mo" x="891.5" y="422" font-size="4.2">is given</text></g>
<g id="b-planorrequest"><rect class="ch" x="947" y="439" width="120" height="43"/><text x="1007" y="445.5" text-anchor="middle" class="h" font-size="5.4">PlanOrRequest</text>
<rect class="red" x="952" y="447" width="107" height="30"/><text x="954" y="453" class="h" font-size="5">Template</text><text x="954" y="458.8"><tspan class="h">classCode*</tspan>: &lt;= <tspan class="i">ActClass</tspan></text><text x="954" y="463.8"><tspan class="h">moodCode*</tspan>: &lt;= <tspan class="i">ActMood</tspan></text></g>
<g id="b-c-reasonformed"><rect class="cb" x="1063" y="483" width="99" height="17"/><text class="cl" x="1065" y="483.5">Constraint:</text>
<text class="mo" x="1064.5" y="488.7" font-size="4.1">ReasonForMedication should be present</text><text class="mo" x="1064.5" y="493.2" font-size="4.1">if there is no reference to a plan or</text><text class="mo" x="1064.5" y="497.7" font-size="4.1">request</text></g>
<g id="b-reasonformed"><rect class="ch" x="950" y="499" width="116" height="43"/><text x="1008" y="505.3" text-anchor="middle" class="h" font-size="5.4">ReasonForMedication</text>
<rect class="red" x="955" y="507" width="106" height="30"/><text x="957" y="513" class="h" font-size="5">Template1</text><text x="957" y="518.8"><tspan class="h">classCode*</tspan>: &lt;= <tspan class="i">ActClass</tspan></text><text x="957" y="523.8"><tspan class="h">moodCode*</tspan>: &lt;= <tspan class="i">ActMood</tspan></text></g>
<g id="b-c-reasonforstop"><rect class="cb" x="1073" y="541" width="111" height="37"/><text class="cl" x="1075" y="541.5">Constraint:</text>
<text class="mo" x="1074.5" y="546.3" font-size="3.9">ReasonForStoppingMedication should</text><text class="mo" x="1074.5" y="550.3" font-size="3.9">be present if</text><text class="mo" x="1074.5" y="554.5" font-size="3.9">MedicationAdministrationDose.code</text><text class="mo" x="1074.5" y="558.7" font-size="3.9">has any of the following procedure context</text><text class="mo" x="1074.5" y="567.3" font-size="3.9">"385657008" - "abandoned"</text><text class="mo" x="1074.5" y="571.6" font-size="3.9">"385655000" - "suspended"</text></g>
<g id="b-reasonforstop"><rect class="ch" x="948" y="549" width="117" height="43"/><text x="1006.5" y="555.5" text-anchor="middle" class="h" font-size="5.4">ReasonForStoppingMedication</text>
<rect class="red" x="953" y="557" width="107" height="30"/><text x="955" y="563" class="h" font-size="5">Template2</text><text x="955" y="568.8"><tspan class="h">classCode*</tspan>: &lt;= <tspan class="i">ActClass</tspan></text><text x="955" y="573.2"><tspan class="h">moodCode*</tspan>: &lt;= <tspan class="i">ActMood</tspan></text></g>

<g id="b-medquantity"><rect class="red" x="949" y="638" width="152" height="38"/>
<text x="952" y="644.3" class="h" font-size="5.6">MedicationQuantity</text>
<text x="952" y="650"><tspan class="h">classCode*</tspan>: = <tspan class="i">SPLY</tspan></text>
<text x="952" y="654"><tspan class="h">moodCode*</tspan>: = <tspan class="i">EVN</tspan></text>
<text x="952" y="658.8"><tspan class="h">code*</tspan>: CV CNE [1..1] = <tspan class="i">SnomedCT</tspan> "246205007"</text>
<text x="952" y="663.5"><tspan class="h">templateId*</tspan>: II [1..1] =</text>
<text x="952" y="668.2">"COCD_TP146028UK04#medicationQuantity"</text>
<text x="952" y="673.2"><tspan class="h">quantity*</tspan>: PQ [1..1]</text></g>
<g id="b-admindetails"><rect class="red" x="948" y="676" width="155" height="37"/>
<text x="951" y="682.3" class="h" font-size="5.6">AdministrationDetails</text>
<text x="951" y="688"><tspan class="h">classCode*</tspan>: = <tspan class="i">OBS</tspan></text>
<text x="951" y="692.5"><tspan class="h">moodCode*</tspan>: = <tspan class="i">EVN</tspan></text>
<text x="951" y="697.2"><tspan class="h">code*</tspan>: CV CNE [1..1] = <tspan class="i">CDAPrescriptionAnnotation</tspan> "AD"</text>
<text x="951" y="701.8"><tspan class="h">templateId*</tspan>: II [1..1] =</text>
<text x="951" y="706.8">"COCD_TP146028UK04#administrationDetails"</text>
<text x="951" y="711.8"><tspan class="h">value*</tspan>: ST [1..1] (Dose instructions)</text></g>
<g id="b-admintype"><rect class="red" x="948" y="755" width="173" height="36"/>
<text x="951" y="761" class="h" font-size="5.6">AdministrationType</text>
<text x="951" y="766.8"><tspan class="h">classCode*</tspan>: = <tspan class="i">OBS</tspan></text>
<text x="951" y="770.8"><tspan class="h">moodCode*</tspan>: = <tspan class="i">EVN</tspan></text>
<text x="951" y="775.8"><tspan class="h">code*</tspan>: CV CNE [1..1] = <tspan class="i">CDAPrescriptionAnnotation</tspan> "AT"</text>
<text x="951" y="780.8"><tspan class="h">templateId*</tspan>: II [1..1] = "COCD_TP146028UK04#administrationType"</text>
<text x="951" y="785.2"><tspan class="h">value*</tspan>: CV CNE [1..1] = <tspan class="i">CDAAdministrationType</tspan> "DO"</text></g>
<g id="b-c-mq-code"><rect class="cb" x="1115" y="644" width="67" height="8"/><text class="cl" x="1117" y="643.8">Constraint: code</text><text class="mo" x="1116.5" y="650.5" font-size="3.7">typeSpec:CV.NHSTT.CDA.SnCT</text></g>
<g id="b-c-ad-code"><rect class="cb" x="1115" y="684" width="67" height="8"/><text class="cl" x="1117" y="683.8">Constraint: code</text><text class="mo" x="1116.5" y="690.5" font-size="3.7">typeSpec:CV.NHSTT.CDA.SnCT</text></g>
<g id="b-c-at-code"><rect class="cb" x="1111" y="729" width="67" height="8"/><text class="cl" x="1113" y="728.8">Constraint: code</text><text class="mo" x="1112.5" y="735.5" font-size="3.7">typeSpec:CV.NHSTT.CDA.SnCT</text></g>
</g>

<g id="red-strokes">
<path class="rl" d="M275,0L322,143"/>
<path class="rl" d="M435,0L728,503"/>
<path class="rl" d="M870,0L945,70"/>
</g>
</svg>
